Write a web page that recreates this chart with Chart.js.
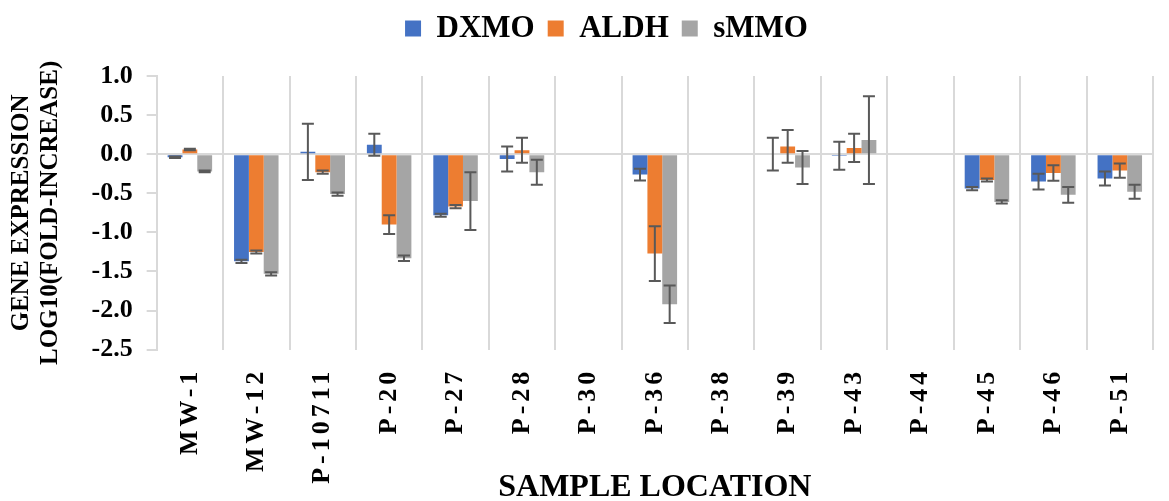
<!DOCTYPE html>
<html>
<head>
<meta charset="utf-8">
<script src="https://cdn.jsdelivr.net/npm/chart.js@4"></script>
<style>
  body { margin: 0; background: #fff; }
</style>
</head>
<body>
<canvas id="geneChart" width="1169" height="501"></canvas>
<script>
// sample locations
const locations = ['MW-1', 'MW-12', 'P-10711', 'P-20', 'P-27', 'P-28', 'P-30', 'P-36',
  'P-38', 'P-39', 'P-43', 'P-44', 'P-45', 'P-46', 'P-51'];

// log10(fold increase) + error bar half-widths
const dxmo    = [-0.04, -1.37,  0.03,  0.12, -0.78, -0.06, 0, -0.26, 0,  0.00, -0.02, 0, -0.44, -0.35, -0.31];
const dxmoErr = [ 0.01,  0.02,  0.36,  0.14,  0.02,  0.16, 0,  0.075, 0, 0.21,  0.18, 0,  0.02,  0.10,  0.09];
const aldh    = [ 0.06, -1.25, -0.23, -0.90, -0.67,  0.05, 0, -1.27, 0,  0.10,  0.08, 0, -0.33, -0.24, -0.21];
const aldhErr = [ 0.01,  0.02,  0.02,  0.12,  0.02,  0.16, 0,  0.35, 0,  0.21,  0.18, 0,  0.02,  0.10,  0.09];
const smmo    = [-0.22, -1.53, -0.51, -1.33, -0.60, -0.23, 0, -1.92, 0, -0.17,  0.18, 0, -0.61, -0.52, -0.48];
const smmoErr = [ 0.01,  0.02,  0.02,  0.035, 0.37,  0.16, 0,  0.24, 0,  0.21,  0.56, 0,  0.02,  0.10,  0.09];

const yMin = -2.5, yMax = 1.0, yStep = 0.5;

const serif = "'Liberation Serif', 'Times New Roman', serif";

// error bars drawn from the y scale, then letter spacing for the x labels (drawn after, ticks.z = 1)
const errorBars = {
  id: 'errorBars',
  afterDatasetsDraw(chart) {
    const ctx = chart.ctx;
    const y = chart.scales.y;
    ctx.save();
    ctx.strokeStyle = '#595959';
    ctx.lineWidth = 2;
    chart.data.datasets.forEach((ds, i) => {
      const meta = chart.getDatasetMeta(i);
      meta.data.forEach((bar, j) => {
        const e = ds.errors[j];
        if (!e) return;
        const v = ds.data[j];
        const top = y.getPixelForValue(v + e);
        const bot = y.getPixelForValue(v - e);
        ctx.beginPath();
        ctx.moveTo(bar.x, top); ctx.lineTo(bar.x, bot);
        ctx.moveTo(bar.x - 6, top); ctx.lineTo(bar.x + 6, top);
        ctx.moveTo(bar.x - 6, bot); ctx.lineTo(bar.x + 6, bot);
        ctx.stroke();
      });
    });
    ctx.restore();
    ctx.letterSpacing = '4px';
  },
  afterDraw(chart) {
    chart.ctx.letterSpacing = '0px';
  }
};

// more room under the legend, and move it a bit to the right like the original
const legendSpace = {
  id: 'legendSpace',
  beforeUpdate(chart) {
    const lg = chart.legend;
    if (lg && !lg._patched) {
      const fit = lg.fit;
      lg.fit = function () { fit.call(this); this.height += 22; };
      lg._patched = true;
    }
  },
  afterLayout(chart) {
    chart.legend.left += 22;
    chart.legend.right += 22;
  }
};

new Chart(document.getElementById('geneChart'), {
  type: 'bar',
  data: {
    labels: locations,
    datasets: [
      { label: 'DXMO', data: dxmo, errors: dxmoErr, backgroundColor: '#4472C4' },
      { label: 'ALDH', data: aldh, errors: aldhErr, backgroundColor: '#ED7D31' },
      { label: 'sMMO', data: smmo, errors: smmoErr, backgroundColor: '#A5A5A5' }
    ]
  },
  options: {
    responsive: false,
    animation: false,
    categoryPercentage: 0.67,
    barPercentage: 1.0,
    layout: { padding: 0 },
    plugins: {
      tooltip: { enabled: false },
      legend: {
        position: 'top',
        labels: {
          boxWidth: 16,
          boxHeight: 16,
          padding: 13,
          color: '#000',
          font: { family: serif, size: 31, weight: 'bold' }
        }
      }
    },
    scales: {
      x: {
        offset: true,
        grid: {
          offset: true,
          color: '#d9d9d9',
          lineWidth: 2,
          drawTicks: false
        },
        border: { display: false },
        ticks: {
          z: 1,
          color: '#000',
          minRotation: 90,
          maxRotation: 90,
          autoSkip: false,
          padding: 18,
          font: { family: serif, size: 26, weight: 'bold' }
        },
        title: {
          display: true,
          text: 'SAMPLE LOCATION',
          color: '#000',
          padding: { top: 0, bottom: 0 },
          font: { family: serif, size: 32, weight: 'bold', lineHeight: 0.85 }
        }
      },
      y: {
        min: yMin,
        max: yMax,
        grid: {
          color: c => c.tick && c.tick.value === 0 ? '#d9d9d9' : 'rgba(0,0,0,0)',
          tickColor: '#d9d9d9',
          lineWidth: 2,
          tickLength: 10
        },
        border: { display: true, color: '#d9d9d9', width: 2 },
        ticks: {
          stepSize: yStep,
          color: '#000',
          padding: 14,
          font: { family: serif, size: 26, weight: 'bold' },
          callback: v => Number(v).toFixed(1)
        },
        title: {
          display: true,
          text: ['GENE EXPRESSION', 'LOG10(FOLD-INCREASE)'],
          color: '#000',
          padding: { top: 7, bottom: 13 },
          font: { family: serif, size: 25, weight: 'bold', lineHeight: 1.15 }
        }
      }
    }
  },
  plugins: [errorBars, legendSpace]
});
</script>
</body>
</html>
